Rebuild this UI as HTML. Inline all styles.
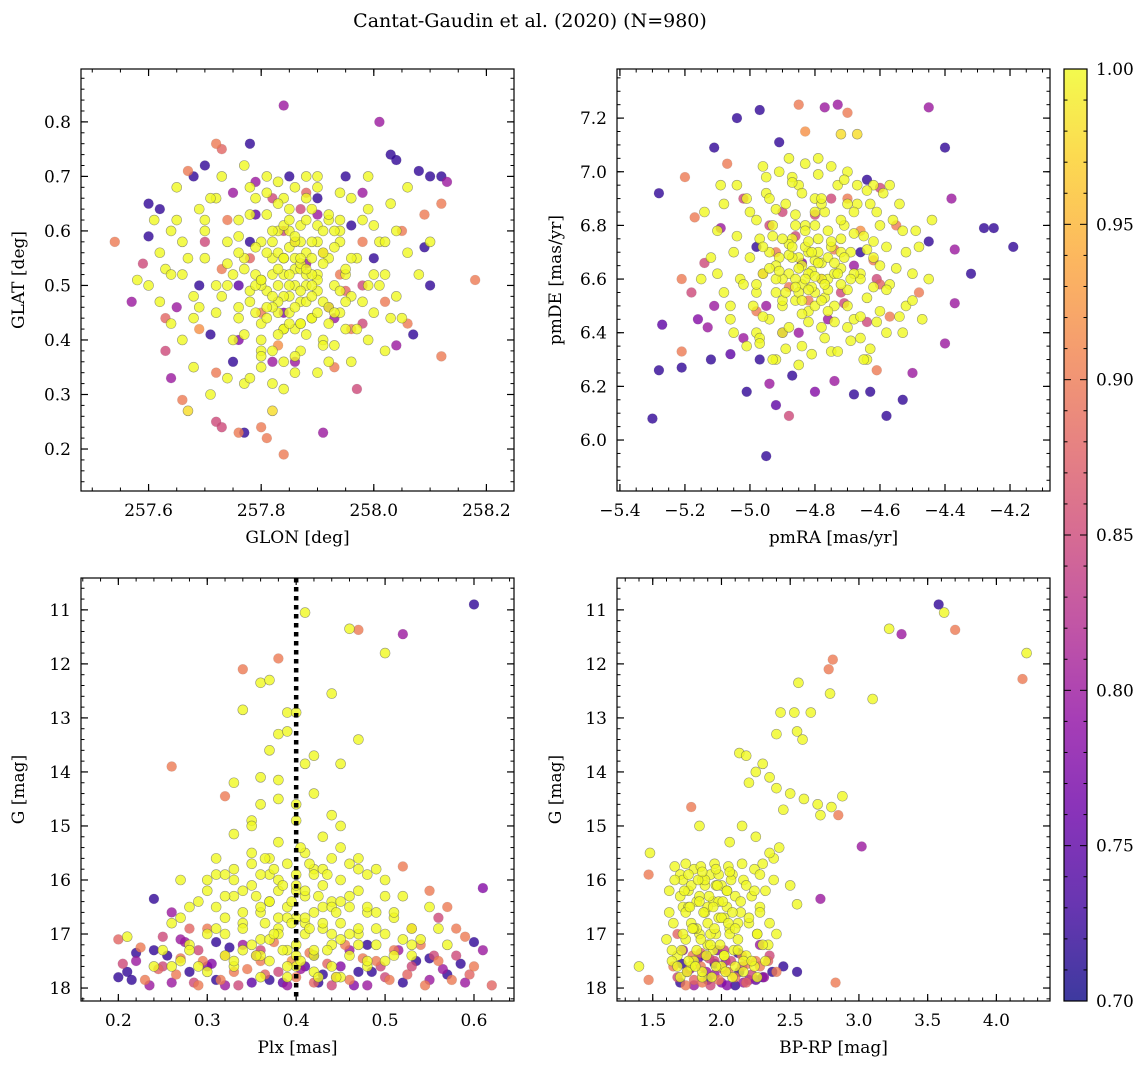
<!DOCTYPE html>
<html><head><meta charset="utf-8"><style>
body{margin:0;background:#fff;}
svg{display:block;font-family:"DejaVu Serif","Liberation Serif",serif;}
</style></head><body>
<svg id="fig" width="1148" height="1068" viewBox="0 0 1148 1068" xmlns="http://www.w3.org/2000/svg">
<defs>
<linearGradient id="plasma" x1="0" y1="1" x2="0" y2="0">
<stop offset="0" stop-color="#0d0887"/><stop offset="0.1" stop-color="#41049d"/><stop offset="0.2" stop-color="#6a00a8"/><stop offset="0.3" stop-color="#8f0da4"/><stop offset="0.4" stop-color="#b12a90"/><stop offset="0.5" stop-color="#cc4778"/><stop offset="0.6" stop-color="#e16462"/><stop offset="0.7" stop-color="#f2844b"/><stop offset="0.8" stop-color="#fca636"/><stop offset="0.9" stop-color="#fcce25"/><stop offset="1" stop-color="#f0f921"/>
</linearGradient>
</defs>
<text x="530" y="27" font-size="19" text-anchor="middle">Cantat-Gaudin et al. (2020) (N=980)</text>
</svg>
<script>
// ---- data: top-left (GLON vs GLAT)
const tlLon=[257.54,257.57,257.59,257.60,257.60,257.63,257.63,257.64,257.66,257.67,257.67,257.68,257.70,257.72,257.73,257.75,257.78,257.72,257.73,257.76,257.77,257.80,257.81,257.84,257.84,257.82,257.91,258.01,258.03,258.04,258.08,258.10,258.12,258.13,258.12,258.09,258.09,258.10,258.18,258.12,258.07,258.04,258.06,257.98,257.97,257.93,257.75,257.82,257.86,257.71,257.72,257.78,257.95,257.96,257.98,257.90,257.85,257.88,257.76,257.65,257.69,258.00,258.05,258.02,257.93,257.84,257.62,257.69,257.98,257.79,
257.62,257.64,257.66,257.68,257.70,257.70,257.72,257.72,257.74,257.74,257.75,257.76,257.77,257.78,257.78,257.79,257.80,257.80,257.81,257.81,257.82,257.82,257.83,257.83,257.84,257.84,257.85,257.85,257.86,257.86,257.87,257.87,257.88,257.88,257.89,257.89,257.90,257.90,257.91,257.91,257.92,257.92,257.93,257.94,257.94,257.95,257.96,257.96,257.97,257.98,257.99,258.00,258.01,258.02,258.03,258.04,258.06,257.66,257.68,257.71,257.74,257.77,257.80,257.84,257.87,257.90,257.93,257.96,257.99,258.02,257.65,257.69,257.73,257.77,257.81,257.86,257.90,257.94,257.99,258.06,257.83,257.85,257.86,257.87,257.84,257.88,257.86,257.82,257.89,257.85,257.79,257.80,257.83,257.87,257.90,257.92,257.88,257.84,257.80,257.76,257.60,257.62,257.64,257.58,257.61,257.63,258.08,258.10,258.05,258.00,
257.76,257.77,257.78,257.79,257.80,257.81,257.82,257.83,257.84,257.85,257.86,257.87,257.88,257.89,257.90,257.91,257.92,257.93,257.94,257.95,
257.76,257.77,257.78,257.79,257.80,257.81,257.82,257.83,257.84,257.85,257.86,257.87,257.88,257.89,257.90,257.91,257.92,257.93,257.94,257.95,
257.64,257.66,257.68,257.70,257.72,257.74,257.96,257.98,258.00,258.02,258.04,257.65,257.67,257.69,257.71,257.73,257.97,257.99,258.01,258.03,
257.78,257.80,257.82,257.84,257.86,257.88,257.90,257.92,257.94,257.79,257.81,257.83,257.85,257.87,257.89,257.91,257.93,257.76,257.75,257.95,
257.80,257.81,257.82,257.83,257.84,257.85,257.86,257.87,257.88,257.89,257.90,257.91,257.84,257.86,257.88,257.82,257.85,257.87,257.83,257.89,
257.74,257.78,257.82,257.86,257.90,257.94,257.98,257.76,257.80,257.84,257.88,257.92,257.96,257.70,257.73,257.79,257.83,257.87,257.91,257.95];
const tlLat=[0.58,0.47,0.54,0.65,0.59,0.44,0.38,0.33,0.29,0.27,0.71,0.70,0.72,0.76,0.75,0.67,0.76,0.25,0.24,0.23,0.23,0.24,0.22,0.19,0.83,0.27,0.23,0.80,0.74,0.73,0.71,0.70,0.70,0.69,0.65,0.63,0.57,0.50,0.51,0.37,0.41,0.39,0.43,0.43,0.31,0.35,0.36,0.36,0.36,0.41,0.34,0.58,0.70,0.61,0.67,0.66,0.70,0.54,0.50,0.46,0.50,0.55,0.60,0.47,0.44,0.45,0.64,0.42,0.58,0.63,
0.56,0.60,0.52,0.48,0.55,0.62,0.66,0.45,0.58,0.50,0.40,0.62,0.55,0.47,0.68,0.52,0.58,0.43,0.63,0.49,0.55,0.38,0.60,0.45,0.52,0.66,0.48,0.57,0.42,0.53,0.61,0.47,0.50,0.56,0.44,0.64,0.52,0.58,0.47,0.40,0.55,0.62,0.50,0.45,0.58,0.52,0.66,0.48,0.55,0.62,0.50,0.45,0.58,0.52,0.65,0.48,0.56,0.40,0.35,0.30,0.33,0.32,0.35,0.31,0.38,0.34,0.39,0.36,0.40,0.38,0.68,0.64,0.70,0.72,0.70,0.68,0.70,0.67,0.70,0.68,0.50,0.52,0.50,0.53,0.48,0.47,0.55,0.52,0.55,0.45,0.45,0.50,0.56,0.58,0.49,0.43,0.41,0.42,0.40,0.44,0.50,0.47,0.43,0.51,0.62,0.53,0.52,0.58,0.44,0.61,
0.46,0.53,0.49,0.57,0.51,0.44,0.60,0.47,0.55,0.50,0.58,0.43,0.52,0.48,0.61,0.54,0.46,0.57,0.49,0.53,
0.59,0.41,0.63,0.50,0.38,0.56,0.46,0.65,0.42,0.60,0.37,0.54,0.66,0.44,0.51,0.39,0.63,0.45,0.60,0.42,
0.52,0.58,0.44,0.60,0.50,0.54,0.55,0.47,0.52,0.58,0.60,0.62,0.55,0.46,0.66,0.48,0.42,0.64,0.50,0.44,
0.33,0.37,0.32,0.36,0.34,0.70,0.68,0.36,0.62,0.66,0.67,0.69,0.64,0.43,0.50,0.56,0.60,0.56,0.52,0.47,
0.51,0.46,0.58,0.53,0.61,0.43,0.59,0.49,0.62,0.52,0.45,0.60,0.55,0.46,0.53,0.48,0.62,0.55,0.41,0.58,
0.62,0.55,0.66,0.58,0.63,0.52,0.50,0.40,0.45,0.60,0.67,0.46,0.42,0.58,0.53,0.69,0.39,0.64,0.56,0.49];
const tlProb=[0.9,0.8,0.85,0.72,0.72,0.88,0.85,0.8,0.9,0.98,0.9,0.72,0.72,0.9,0.88,0.8,0.72,0.85,0.85,0.9,0.72,0.9,0.9,0.9,0.8,0.98,0.8,0.8,0.72,0.72,0.72,0.72,0.72,0.8,0.9,0.9,0.72,0.72,0.9,0.9,0.72,0.8,0.9,0.85,0.85,0.9,0.72,0.8,0.8,0.72,0.9,0.72,0.72,0.72,0.8,0.72,0.72,0.8,0.75,0.8,0.72,0.72,0.9,0.9,0.8,0.78,0.72,0.92,0.9,0.75,
1,1,1,1,1,1,1,1,1,1,1,1,1,1,1,1,1,1,1,1,1,1,1,1,1,1,1,1,1,1,1,1,1,1,1,1,1,1,1,1,1,1,1,1,1,1,1,1,1,1,1,1,1,1,1,1,1,1,1,1,1,1,1,1,1,1,1,1,1,1,1,1,1,1,1,1,1,1,1,1,1,1,1,1,1,1,1,1,1,1,1,1,1,1,1,1,1,1,1,1,1,1,1,1,1,1,1,1,1,1,
1,1,1,1,1,1,1,1,1,1,1,1,1,1,1,1,1,1,1,1,
1,1,1,1,1,1,1,1,1,1,1,1,1,1,1,1,1,1,1,1,
1,1,1,1,1,1,1,1,1,1,1,1,1,1,1,1,1,1,1,1,
1,1,1,1,1,1,1,1,1,1,1,1,1,1,1,1,1,1,1,1,
1,1,1,1,1,1,1,1,1,1,1,1,1,1,1,1,1,1,1,1,
0.9,0.88,0.85,0.9,0.8,0.9,0.85,0.78,0.9,0.85,0.88,0.8,0.9,0.85,0.9,0.8,0.92,0.85,0.9,0.88];
// ---- data: top-right (pmRA vs pmDE)
const trRA=[-5.30,-5.28,-5.27,-5.28,-5.21,-5.20,-5.21,-5.21,-5.18,-5.17,-5.16,-5.13,-5.12,-5.11,-5.09,-5.07,-5.04,-5.02,-5.01,-4.97,-4.94,-4.95,-4.92,-4.91,-4.88,-4.85,-4.83,-4.77,-4.73,-4.70,-4.72,-4.67,-4.64,-4.60,-4.63,-4.58,-4.53,-4.50,-4.45,-4.40,-4.38,-4.37,-4.37,-4.40,-4.28,-4.25,-4.19,-4.32,-4.45,-4.48,-4.57,-4.61,-4.68,-4.74,-4.80,-4.87,-4.97,-5.06,-5.11,-5.14,-4.98,-4.66,-4.61,-4.95,-4.71,-4.85,-4.75,-4.90,-5.02,-4.55,
-5.05,-5.03,-5.00,-4.99,-4.97,-4.96,-4.95,-4.94,-4.93,-4.92,-4.91,-4.90,-4.89,-4.88,-4.87,-4.86,-4.85,-4.85,-4.84,-4.83,-4.82,-4.82,-4.81,-4.80,-4.80,-4.79,-4.78,-4.78,-4.77,-4.76,-4.75,-4.74,-4.73,-4.72,-4.71,-4.70,-4.69,-4.68,-4.67,-4.66,-4.65,-4.64,-4.62,-4.61,-4.60,-4.58,-4.57,-4.55,-4.53,-4.52,-5.08,-5.10,-5.12,-5.06,-5.04,-5.01,-4.96,-4.92,-4.88,-4.84,-4.79,-4.75,-4.70,-4.66,-4.62,-4.58,-4.54,-4.50,-4.48,-4.47,-4.84,-4.82,-4.80,-4.86,-4.83,-4.78,-4.81,-4.87,-4.79,-4.85,-4.90,-4.76,-4.88,-4.74,-4.92,-4.72,-4.94,-4.80,-4.83,-4.77,-5.14,-5.15,-4.98,-4.90,-4.70,-4.64,-4.45,-4.44,-4.98,-4.68,
-4.98,-4.96,-4.94,-4.92,-4.90,-4.88,-4.86,-4.84,-4.82,-4.80,-4.78,-4.76,-4.74,-4.72,-4.70,-4.68,-4.66,-4.64,-4.62,-4.60,
-4.98,-4.96,-4.94,-4.92,-4.90,-4.88,-4.86,-4.84,-4.82,-4.80,-4.78,-4.76,-4.74,-4.72,-4.70,-4.68,-4.66,-4.64,-4.62,-4.60,
-5.10,-5.08,-5.06,-5.04,-5.02,-5.00,-4.58,-4.56,-4.54,-4.52,-4.50,-5.09,-5.05,-5.01,-4.57,-4.53,-4.49,-4.97,-4.63,-4.87,
-4.85,-4.83,-4.81,-4.79,-4.77,-4.75,-4.73,-4.71,-4.69,-4.87,-4.89,-4.91,-4.93,-4.84,-4.80,-4.76,-4.72,-4.86,-4.78,-4.82,
-4.97,-4.95,-4.93,-4.91,-4.89,-4.87,-4.85,-4.83,-4.81,-4.79,-4.77,-4.75,-4.73,-4.71,-4.69,-4.67,-4.65,-4.63,-4.61,-4.59,
-4.98,-4.96,-4.94,-4.92,-4.90,-4.88,-4.86,-4.84,-4.82,-4.80,-4.78,-4.76,-4.74,-4.72,-4.70,-4.68,-4.66,-4.64,-4.62,-4.60];
const trDE=[6.08,6.92,6.43,6.26,6.27,6.98,6.60,6.33,6.55,6.83,6.45,6.42,6.30,7.09,6.79,7.03,7.20,6.38,6.18,7.23,6.21,5.94,6.13,7.11,6.09,7.25,7.15,7.24,7.25,7.22,7.14,7.14,6.97,6.94,6.18,6.09,6.15,6.25,7.24,7.09,6.90,6.71,6.51,6.36,6.79,6.79,6.72,6.62,6.74,6.55,6.46,6.26,6.17,6.22,6.18,6.24,6.30,6.32,6.50,6.66,6.72,6.70,6.60,6.50,6.51,6.40,6.90,6.85,6.90,6.80,
6.70,6.60,6.85,6.50,6.75,6.62,6.92,6.45,6.80,6.55,6.68,6.40,6.88,6.62,6.75,6.52,6.95,6.68,6.58,6.80,6.48,6.70,6.63,6.90,6.55,6.75,6.42,6.66,6.85,6.60,6.72,6.50,6.95,6.64,6.80,6.56,6.70,6.45,6.88,6.62,6.76,6.53,6.68,6.85,6.48,6.72,6.58,6.64,6.78,6.50,6.55,6.78,6.68,6.45,6.95,6.35,7.02,6.30,7.05,6.35,7.05,6.33,7.00,6.38,6.95,6.40,6.88,6.62,6.72,6.45,6.65,6.62,6.67,6.60,6.72,6.60,6.57,6.68,6.70,6.55,6.60,6.68,6.73,6.62,6.65,6.70,6.70,6.50,6.78,6.53,6.85,6.60,6.40,6.50,6.42,6.30,6.60,6.82,6.55,6.85,
6.58,6.72,6.64,6.86,6.52,6.69,6.80,6.47,6.74,6.61,6.88,6.56,6.66,6.82,6.50,6.77,6.60,6.71,6.57,6.80,
6.82,6.46,6.90,6.60,6.75,6.42,6.57,6.92,6.56,6.85,6.52,6.78,6.44,6.58,6.88,6.62,6.46,6.93,6.74,6.65,
6.62,6.88,6.50,6.76,6.58,6.68,6.56,6.82,6.46,6.70,6.52,6.95,6.40,6.90,6.95,6.40,6.78,6.38,6.34,6.98,
6.64,6.60,6.70,6.66,6.58,6.74,6.62,6.68,6.60,6.72,6.55,6.63,6.76,6.52,6.80,6.48,6.75,6.84,6.90,6.44,
6.36,6.98,6.30,7.00,6.34,6.96,6.28,7.03,6.32,6.99,6.38,7.02,6.33,6.97,6.37,6.95,6.30,6.88,6.44,6.92,
6.48,6.62,6.80,6.70,6.40,6.57,6.76,6.66,6.52,6.84,6.60,6.45,6.71,6.55,6.90,6.65,6.78,6.44,6.67,6.58];
const trProb=[0.72,0.72,0.75,0.72,0.72,0.9,0.9,0.9,0.85,0.9,0.78,0.8,0.72,0.72,0.8,0.9,0.72,0.8,0.72,0.72,0.8,0.72,0.75,0.72,0.85,0.9,0.92,0.8,0.8,0.9,0.98,0.98,0.72,0.85,0.72,0.72,0.72,0.8,0.8,0.72,0.8,0.8,0.8,0.8,0.72,0.72,0.72,0.72,0.72,0.9,0.9,0.9,0.72,0.8,0.78,0.72,0.72,0.75,0.8,0.85,0.72,0.72,0.85,0.8,0.85,0.8,0.85,0.85,0.85,0.9,
1,1,1,1,1,1,1,1,1,1,1,1,1,1,1,1,1,1,1,1,1,1,1,1,1,1,1,1,1,1,1,1,1,1,1,1,1,1,1,1,1,1,1,1,1,1,1,1,1,1,1,1,1,1,1,1,1,1,1,1,1,1,1,1,1,1,1,1,1,1,1,1,1,1,1,1,1,1,1,1,1,1,1,1,1,1,1,1,1,1,1,1,1,1,1,1,1,1,1,1,
1,1,1,1,1,1,1,1,1,1,1,1,1,1,1,1,1,1,1,1,
1,1,1,1,1,1,1,1,1,1,1,1,1,1,1,1,1,1,1,1,
1,1,1,1,1,1,1,1,1,1,1,1,1,1,1,1,1,1,1,1,
1,1,1,1,1,1,1,1,1,1,1,1,1,1,1,1,1,1,1,1,
1,1,1,1,1,1,1,1,1,1,1,1,1,1,1,1,1,1,1,1,
0.9,0.88,0.85,0.9,0.8,0.9,0.85,0.78,0.9,0.85,0.88,0.8,0.9,0.85,0.9,0.8,0.92,0.85,0.9,0.88];
// ---- data: bottom-left (Plx vs G)
const blPlx=[0.60,0.41,0.46,0.47,0.52,0.50,0.38,0.34,0.36,0.44,0.37,0.34,0.39,0.40,0.38,0.39,0.37,0.42,0.47,0.26,0.41,0.45,0.33,0.32,0.38,0.42,0.36,0.35,0.40,0.44,0.33,0.45,0.52,0.24,0.61,0.55,0.59,0.60,0.20,0.21,0.25,
0.20,0.21,0.22,0.23,0.24,0.25,0.26,0.27,0.27,0.28,0.29,0.29,0.30,0.30,0.31,0.32,0.32,0.33,0.34,0.35,0.36,0.37,0.38,0.39,0.40,0.41,0.42,0.43,0.44,0.45,0.46,0.47,0.48,0.49,0.50,0.51,0.52,0.53,0.54,0.55,0.56,0.57,0.58,0.59,0.60,0.62,0.61,0.53,0.48,0.56,0.57,0.26,0.28,0.22,0.46,0.42,0.36,0.31,0.55,0.58,
0.30,0.31,0.32,0.33,0.33,0.34,0.34,0.35,0.35,0.36,0.36,0.37,0.37,0.37,0.38,0.38,0.38,0.39,0.39,0.39,0.40,0.40,0.40,0.41,0.41,0.41,0.42,0.42,0.42,0.43,0.43,0.44,0.44,0.44,0.45,0.45,0.46,0.46,0.46,0.47,0.47,0.48,0.48,0.49,0.50,0.50,0.51,0.52,0.29,0.28,0.27,0.26,0.30,0.33,0.36,0.39,0.42,0.45,0.48,0.53,0.36,0.38,0.40,0.35,0.43,0.37,0.45,0.31,0.49,0.34,0.40,0.43,0.38,0.41,0.44,0.36,0.40,0.47,0.32,0.50,
0.30,0.31,0.32,0.33,0.34,0.35,0.36,0.37,0.38,0.39,0.40,0.41,0.42,0.43,0.44,0.45,0.46,0.47,0.48,0.49,
0.30,0.31,0.32,0.33,0.34,0.35,0.36,0.37,0.38,0.39,0.40,0.41,0.42,0.43,0.44,0.45,0.46,0.47,0.48,0.49,
0.355,0.365,0.375,0.385,0.395,0.405,0.415,0.425,0.435,0.445,0.355,0.365,0.375,0.385,0.395,0.405,0.415,0.425,0.435,0.445,
0.25,0.26,0.27,0.28,0.29,0.51,0.52,0.53,0.54,0.55,0.24,0.27,0.28,0.50,0.51,0.53,0.56,0.57,0.32,0.47,
0.205,0.215,0.225,0.235,0.245,0.255,0.265,0.275,0.285,0.295,0.305,0.315,0.325,0.335,0.345,0.355,0.365,0.375,0.385,0.395,
0.405,0.415,0.425,0.435,0.445,0.455,0.465,0.475,0.485,0.495,0.505,0.515,0.525,0.535,0.545,0.555,0.565,0.575,0.585,0.595];
const blG=[10.9,11.05,11.35,11.37,11.45,11.8,11.9,12.1,12.35,12.55,12.3,12.85,12.9,12.9,13.3,13.25,13.6,13.7,13.4,13.9,13.85,13.85,14.2,14.45,14.15,14.4,14.6,14.9,14.6,14.8,15.15,15.0,15.75,16.35,16.15,16.2,17.05,17.15,17.1,17.05,17.05,
17.8,17.7,17.5,17.85,17.3,17.6,17.9,17.45,17.1,17.7,17.95,17.3,17.6,16.9,17.85,17.4,17.95,17.7,17.2,17.9,17.5,17.85,17.7,17.95,17.8,17.6,17.9,17.75,17.95,17.6,17.85,17.7,17.95,17.5,17.8,17.3,17.9,17.6,17.2,17.85,17.5,17.75,17.4,17.9,17.6,17.95,17.3,16.9,17.2,16.7,16.5,16.6,16.9,17.35,17.3,17.4,17.3,17.15,17.45,16.9,
16.0,16.5,17.0,15.8,16.3,16.8,17.3,15.5,16.1,16.6,17.1,15.9,16.4,17.5,15.3,16.2,16.9,15.7,16.5,17.3,15.9,16.7,17.6,15.5,16.3,17.0,15.8,16.6,17.4,16.1,16.9,15.6,16.4,17.2,16.0,16.8,15.7,16.5,17.4,16.2,17.0,16.6,15.9,16.9,16.3,17.5,16.7,17.1,16.4,17.2,16.0,17.6,17.7,17.6,17.8,17.8,17.7,17.8,17.6,17.4,14.1,14.5,14.9,15.0,15.2,15.6,15.4,15.6,15.8,16.2,16.2,16.5,16.7,16.8,17.0,17.4,17.2,17.2,16.7,16.0,
16.2,16.9,17.4,16.0,16.6,17.2,15.9,16.4,17.0,17.6,16.1,16.7,17.3,15.8,16.5,17.1,16.3,16.9,17.5,16.6,
17.0,15.9,16.3,17.5,16.9,15.7,16.5,17.1,16.0,16.7,17.4,16.2,15.9,16.8,17.6,16.4,17.0,15.8,16.5,17.2,
16.3,15.6,17.0,16.1,16.8,15.4,16.9,16.3,17.3,16.6,17.4,16.8,15.8,17.3,16.4,17.5,15.7,17.8,15.9,17.8,
17.3,16.8,17.5,16.5,17.6,16.6,16.3,16.9,17.1,16.5,17.6,16.7,17.3,17.0,17.4,17.2,16.9,17.2,15.9,15.6,
17.55,17.85,17.25,17.95,17.65,17.4,17.75,17.15,17.9,17.5,17.55,17.85,17.25,17.95,17.65,17.4,17.75,17.15,17.9,17.5,
17.65,17.35,17.9,17.55,17.8,17.2,17.95,17.45,17.7,17.6,17.85,17.3,17.75,17.5,17.95,17.4,17.65,17.85,17.55,17.75];
const blProb=[0.72,1,1,0.9,0.8,1,0.9,0.9,1,1,1,1,1,1,1,1,1,1,1,0.9,1,1,1,0.9,1,1,1,1,1,1,1,1,0.9,0.72,0.78,0.9,0.9,0.72,0.88,1,0.85,
0.72,0.72,0.8,0.9,0.72,0.85,0.8,0.9,0.8,0.72,0.9,0.85,0.78,0.9,0.72,0.88,0.8,0.9,0.8,0.75,0.9,0.72,0.85,0.8,0.9,0.75,0.88,0.72,0.85,0.78,0.9,0.72,0.8,0.9,0.85,0.9,0.72,0.85,0.9,0.8,0.9,0.72,0.85,0.8,0.9,0.88,0.8,0.9,0.72,0.85,0.9,0.8,0.88,0.72,0.8,0.72,0.85,0.72,0.72,0.9,
1,1,1,1,1,1,1,1,1,1,1,1,1,1,1,1,1,1,1,1,1,1,1,1,1,1,1,1,1,1,1,1,1,1,1,1,1,1,1,1,1,1,1,1,1,1,1,1,1,1,1,1,1,1,1,1,1,1,1,1,1,1,1,1,1,1,1,1,1,1,1,1,1,1,1,1,1,1,1,1,
1,1,1,1,1,1,1,1,1,1,1,1,1,1,1,1,1,1,1,1,
1,1,1,1,1,1,1,1,1,1,1,1,1,1,1,1,1,1,1,1,
1,1,1,1,1,1,1,1,1,1,1,1,1,1,1,1,1,1,1,1,
1,1,1,1,1,1,1,1,1,1,1,1,1,1,1,1,1,1,1,1,
0.85,0.72,0.9,0.8,0.88,0.72,0.9,0.8,0.85,0.9,0.78,0.9,0.72,0.85,0.9,0.8,0.88,0.9,0.75,0.92,
0.8,0.9,0.72,0.88,0.85,0.9,0.78,0.9,0.72,0.85,0.9,0.8,0.88,0.72,0.9,0.85,0.8,0.9,0.72,0.88];
// ---- data: bottom-right (BP-RP vs G)
const brCol=[3.58,3.62,3.22,3.31,3.70,4.22,4.19,2.81,2.78,2.56,2.79,3.10,2.43,2.53,2.65,2.40,2.55,2.59,2.13,2.18,2.30,2.25,2.35,2.40,2.50,2.60,2.70,2.80,2.72,2.88,2.85,2.20,2.45,2.42,2.38,2.50,2.55,3.02,2.72,2.55,2.83,1.78,1.84,1.40,1.47,1.48,1.47,2.06,2.15,2.25,2.35,2.30,
1.70,1.75,1.80,1.85,1.90,1.95,2.00,2.05,2.10,2.15,2.20,2.25,2.30,2.35,2.40,1.72,1.88,2.02,2.12,2.28,1.65,1.68,2.45,1.95,2.18,
1.62,1.65,1.68,1.70,1.72,1.74,1.76,1.78,1.80,1.80,1.82,1.84,1.86,1.88,1.90,1.92,1.94,1.96,1.98,2.00,2.02,2.04,2.06,2.08,2.10,2.12,2.14,2.16,2.18,2.20,2.22,2.24,2.26,2.28,2.32,2.35,2.38,2.40,1.66,1.74,1.85,1.95,2.05,2.15,1.70,1.78,1.86,1.94,2.00,2.08,2.16,2.24,2.32,1.76,1.84,1.90,1.98,2.04,2.12,1.92,1.82,1.88,2.02,2.10,1.96,1.60,1.64,2.28,2.34,1.72,
1.70,1.72,1.74,1.76,1.78,1.80,1.82,1.84,1.86,1.88,1.90,1.92,1.94,1.96,1.98,2.00,2.02,2.04,2.06,2.08,
1.71,1.73,1.75,1.77,1.79,1.81,1.83,1.85,1.87,1.89,1.91,1.93,1.95,1.97,1.99,2.01,2.03,2.05,2.07,2.09,
2.10,2.12,2.14,2.16,2.18,2.20,2.22,2.24,2.26,2.28,2.30,1.62,1.64,1.66,1.68,1.76,1.86,1.96,2.06,2.26,
1.68,1.71,1.74,1.77,1.80,1.83,1.86,1.89,1.92,1.95,1.98,2.01,2.04,2.07,2.10,2.13,2.16,2.19,2.22,2.25,2.28,2.31,2.34,2.37,1.79,1.91,2.03,2.15,1.85,1.97];
const brG=[10.9,11.05,11.35,11.45,11.37,11.8,12.28,11.92,12.1,12.35,12.55,12.65,12.9,12.9,12.9,13.3,13.25,13.4,13.65,13.7,13.85,14.0,14.1,14.3,14.4,14.5,14.6,14.65,14.8,14.45,14.8,14.2,14.7,15.4,15.6,16.1,16.45,15.38,16.35,17.7,17.9,14.65,15.0,17.6,17.85,15.5,15.9,15.3,15.0,15.2,15.5,15.7,
17.9,17.7,17.95,17.6,17.85,17.5,17.9,17.7,17.95,17.6,17.85,17.5,17.8,17.4,17.7,17.3,17.4,17.3,17.35,17.2,17.6,17.0,17.6,17.75,17.9,
16.2,16.8,17.4,15.9,16.5,17.1,16.2,16.8,15.8,17.5,16.4,17.0,16.0,16.6,17.2,15.9,16.4,17.0,16.7,16.1,17.4,16.5,16.9,15.9,16.3,17.1,16.6,16.0,17.4,16.8,16.3,15.8,17.0,16.5,16.2,16.8,16.0,17.0,15.75,15.7,15.75,15.7,15.75,15.7,17.8,17.6,17.8,17.3,17.6,17.8,17.5,17.6,17.5,16.5,16.3,16.5,16.4,16.2,16.8,17.0,16.9,16.1,16.7,17.6,16.1,17.1,17.5,15.9,17.2,16.0,
16.3,17.0,16.6,17.5,16.1,16.9,17.3,16.4,17.7,16.0,16.8,17.2,16.5,17.6,15.9,16.7,17.4,16.2,17.0,16.6,
17.3,16.2,17.7,16.5,16.9,17.6,16.0,17.1,16.6,17.4,16.3,17.8,16.9,16.1,17.2,16.4,17.7,16.8,16.0,17.3,
16.9,17.3,16.4,17.7,16.1,16.7,17.5,16.2,17.0,16.6,17.2,16.6,17.3,16.0,17.6,15.9,15.85,15.8,15.85,17.8,
17.8,17.55,17.95,17.65,17.85,17.45,17.9,17.7,17.95,17.55,17.85,17.65,17.95,17.5,17.8,17.7,17.9,17.55,17.75,17.85,17.6,17.8,17.5,17.7,17.4,17.45,17.5,17.4,17.35,17.3];
const brProb=[0.72,1,1,0.8,0.9,1,0.9,0.9,0.9,1,1,1,1,1,1,1,1,1,1,1,1,1,1,1,1,1,1,1,1,1,0.9,1,1,1,1,1,1,0.8,0.8,0.72,0.9,0.9,1,1,0.9,1,0.9,1,1,1,1,1,
0.72,0.85,0.8,0.9,0.72,0.85,0.78,0.9,0.72,0.85,0.8,0.9,0.72,0.85,0.9,0.8,0.72,0.85,0.72,0.8,0.9,0.88,0.72,0.8,0.88,
1,1,1,1,1,1,1,1,1,1,1,1,1,1,1,1,1,1,1,1,1,1,1,1,1,1,1,1,1,1,1,1,1,1,1,1,1,1,1,1,1,1,1,1,1,1,1,1,1,1,1,1,1,1,1,1,1,1,1,1,1,1,1,1,1,1,1,1,1,1,
1,1,1,1,1,1,1,1,1,1,1,1,1,1,1,1,1,1,1,1,
1,1,1,1,1,1,1,1,1,1,1,1,1,1,1,1,1,1,1,1,
1,1,1,1,1,1,1,1,1,1,1,1,1,1,1,1,1,1,1,1,
0.85,0.72,0.9,0.8,0.88,0.75,0.9,0.8,0.85,0.72,0.9,0.88,0.78,0.85,0.9,0.72,0.8,0.9,0.85,0.75,0.9,0.8,0.88,0.72,0.9,0.85,0.8,0.9,0.88,0.78];
// ---- tick labels / ranges
const tlXTicks=[257.6,257.8,258.0,258.2];
const tlYTicks=[0.2,0.3,0.4,0.5,0.6,0.7,0.8];
const trXTicks=[-5.4,-5.2,-5.0,-4.8,-4.6,-4.4,-4.2];
const trYTicks=[6.0,6.2,6.4,6.6,6.8,7.0,7.2];
const blXTicks=[0.2,0.3,0.4,0.5,0.6];
const gTicks=[11,12,13,14,15,16,17,18];
const brXTicks=[1.5,2.0,2.5,3.0,3.5,4.0];
const cbTicks=[0.70,0.75,0.80,0.85,0.90,0.95,1.00];
const plxRef=[0.40];

const NS="http://www.w3.org/2000/svg";
const svg=document.getElementById('fig');
const stops=[[13,8,135],[65,4,157],[106,0,168],[143,13,164],[177,42,144],[204,71,120],[225,100,98],[242,132,75],[252,166,54],[252,206,37],[240,249,33]];
function plasma(p){let t=(p-0.7)/0.3;t=Math.max(0,Math.min(1,t))*10;const i=Math.min(9,Math.floor(t)),f=t-i;const a=stops[i],b=stops[i+1];return 'rgb('+a.map((v,k)=>Math.round(v+(b[k]-v)*f)).join(',')+')';}
function mk(tag,attrs,parent){const e=document.createElementNS(NS,tag);for(const k in attrs)e.setAttribute(k,attrs[k]);(parent||svg).appendChild(e);return e;}
function fmt(v,d){const s=v.toFixed(d);return s.replace('-','\u2212');}
const FS=17;

function panel(o){
  const g=mk('g',{});
  
  
  const sx=v=>o.x0+(v-o.xd[0])/(o.xd[1]-o.xd[0])*(o.x1-o.x0);
  const sy=v=>o.y0+(v-o.yd[0])/(o.yd[1]-o.yd[0])*(o.y1-o.y0);
  const n=Math.min(o.xs.length,o.ys.length,o.ps.length);
  const idx=[];for(let i=0;i<n;i++)idx.push(i);
  idx.sort((a,b)=>o.ps[a]-o.ps[b]);
  const pts=mk('g',{},g);
  
  
  for(const i of idx){
    const c=mk('circle',{cx:sx(o.xs[i]),cy:sy(o.ys[i]),r:5,fill:plasma(o.ps[i]),'fill-opacity':0.8,stroke:'#555','stroke-opacity':o.ps[i]>0.97?0.6:0.15,'stroke-width':0.6},pts);
    
    
  }
  if(o.vline){for(const v of o.vline){const l=mk('line',{x1:sx(v),x2:sx(v),y1:o.y0,y2:o.y1,stroke:'#000','stroke-width':4.5,'stroke-dasharray':'4.5,4.5'},g);
    
    }}
  const fr=mk('rect',{x:o.x0,y:Math.min(o.y0,o.y1),width:o.x1-o.x0,height:Math.abs(o.y1-o.y0),fill:'none',stroke:'#000','stroke-width':1.2},g);
  
  
  const top=Math.min(o.y0,o.y1),bot=Math.max(o.y0,o.y1);
  const xmn=Math.min(...o.xd),xmx=Math.max(...o.xd),ymn=Math.min(...o.yd),ymx=Math.max(...o.yd);
  for(let v=Math.ceil(xmn/o.xminor)*o.xminor;v<=xmx;v+=o.xminor){const X=sx(v);mk('line',{x1:X,x2:X,y1:bot,y2:bot-3.5,stroke:'#000','stroke-width':1},g);mk('line',{x1:X,x2:X,y1:top,y2:top+3.5,stroke:'#000','stroke-width':1},g);}
  for(let v=Math.ceil(ymn/o.yminor)*o.yminor;v<=ymx;v+=o.yminor){const Y=sy(v);mk('line',{x1:o.x0,x2:o.x0+3.5,y1:Y,y2:Y,stroke:'#000','stroke-width':1},g);mk('line',{x1:o.x1,x2:o.x1-3.5,y1:Y,y2:Y,stroke:'#000','stroke-width':1},g);}
  for(const v of o.xt){const X=sx(v);mk('line',{x1:X,x2:X,y1:bot,y2:bot-7,stroke:'#000','stroke-width':1.2},g);mk('line',{x1:X,x2:X,y1:top,y2:top+7,stroke:'#000','stroke-width':1.2},g);
    const t=mk('text',{x:X,y:bot+25,'font-size':FS,'text-anchor':'middle'},g);t.textContent=fmt(v,o.xdec);
    
    }
  for(const v of o.yt){const Y=sy(v);mk('line',{x1:o.x0,x2:o.x0+7,y1:Y,y2:Y,stroke:'#000','stroke-width':1.2},g);mk('line',{x1:o.x1,x2:o.x1-7,y1:Y,y2:Y,stroke:'#000','stroke-width':1.2},g);
    const t=mk('text',{x:o.x0-10,y:Y+6,'font-size':FS,'text-anchor':'end'},g);t.textContent=fmt(v,o.ydec);
    
    }
  const xl=mk('text',{x:(o.x0+o.x1)/2,y:bot+52,'font-size':FS,'text-anchor':'middle'},g);xl.textContent=o.xlabel;
  
  
  const yc=(o.y0+o.y1)/2;
  const yl=mk('text',{x:o.ylx,y:yc,'font-size':FS,'text-anchor':'middle',transform:'rotate(-90 '+o.ylx+' '+yc+')'},g);yl.textContent=o.ylabel;
  
  
}
panel({name:'glon-glat-panel',x0:81,x1:514,y0:491,y1:69,xd:[257.48,258.249],yd:[0.123,0.897],xs:tlLon,ys:tlLat,ps:tlProb,xt:tlXTicks,yt:tlYTicks,xminor:0.05,yminor:0.02,xdec:1,ydec:1,xlabel:'GLON [deg]',ylabel:'GLAT [deg]',ylx:24});
panel({name:'pm-panel',x0:617,x1:1050,y0:491,y1:69,xd:[-5.409,-4.077],yd:[5.81,7.383],xs:trRA,ys:trDE,ps:trProb,xt:trXTicks,yt:trYTicks,xminor:0.05,yminor:0.05,xdec:1,ydec:1,xlabel:'pmRA [mas/yr]',ylabel:'pmDE [mas/yr]',ylx:561});
panel({name:'plx-g-panel',x0:81,x1:514,y0:578,y1:1001,xd:[0.158,0.645],yd:[10.41,18.24],xs:blPlx,ys:blG,ps:blProb,xt:blXTicks,yt:gTicks,xminor:0.02,yminor:0.2,xdec:1,ydec:0,xlabel:'Plx [mas]',ylabel:'G [mag]',ylx:24,vline:plxRef});
panel({name:'cmd-panel',x0:617,x1:1050,y0:578,y1:1001,xd:[1.24,4.39],yd:[10.41,18.24],xs:brCol,ys:brG,ps:brProb,xt:brXTicks,yt:gTicks,xminor:0.1,yminor:0.2,xdec:1,ydec:0,xlabel:'BP-RP [mag]',ylabel:'G [mag]',ylx:561});

const cb=mk('g',{});


const cx0=1064,cx1=1087,cy0=69,cy1=1001;
mk('rect',{x:cx0,y:cy0,width:cx1-cx0,height:cy1-cy0,fill:'url(#plasma)','fill-opacity':0.8},cb);
mk('rect',{x:cx0,y:cy0,width:cx1-cx0,height:cy1-cy0,fill:'none',stroke:'#000','stroke-width':1.2},cb);
const cby=v=>cy1-(v-0.7)/0.3*(cy1-cy0);
for(let k=70;k<=100;k++){const Y=cby(k/100);const major=k%5===0;mk('line',{x1:cx1,x2:cx1-(major?7:3.5),y1:Y,y2:Y,stroke:'#000','stroke-width':1},cb);mk('line',{x1:cx0,x2:cx0+(major?7:3.5),y1:Y,y2:Y,stroke:'#000','stroke-width':1},cb);}
for(const v of cbTicks){const t=mk('text',{x:cx1+9,y:cby(v)+6,'font-size':FS},cb);t.textContent=v.toFixed(2);
  
  }
</script>
</body></html>
